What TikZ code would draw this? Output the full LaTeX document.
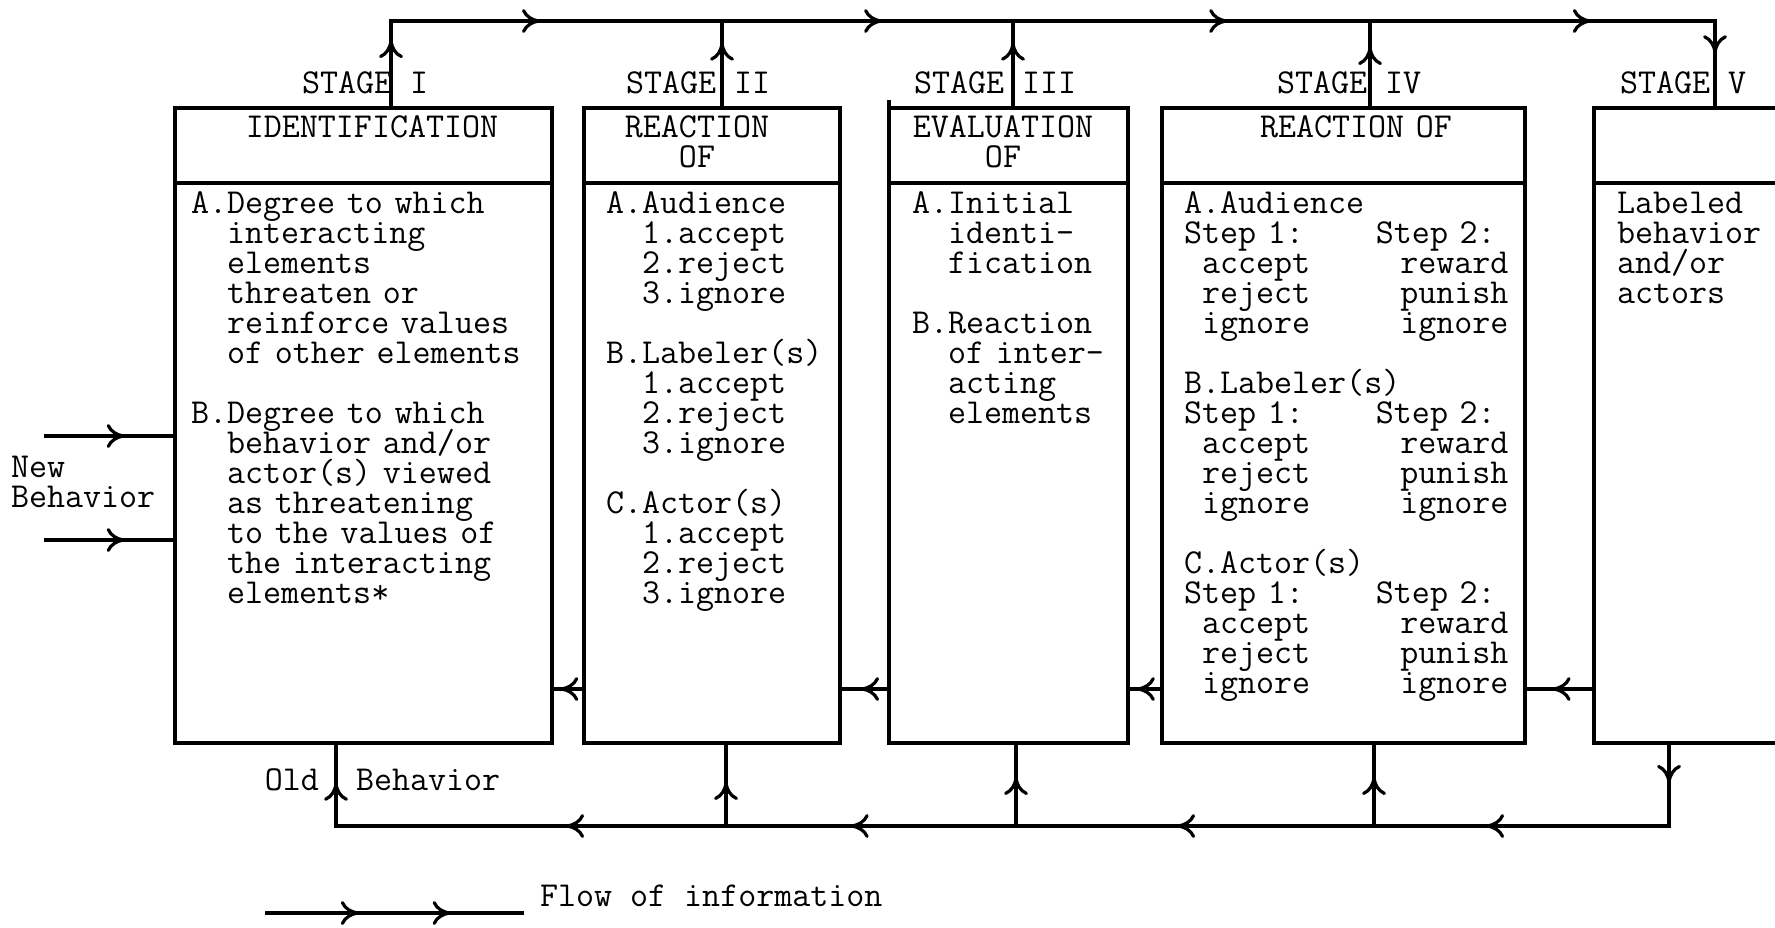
\documentclass[tikz,border=0pt]{standalone}
\usepackage{fontspec}
\usetikzlibrary{arrows.meta,decorations.markings}
\newcommand{\sk}[1]{\hspace*{#1\fontcharwd\font`x}}
\newcommand{\twfont}{\ttfamily\fontsize{17.5pt}{15pt}\selectfont\addfontfeature{FakeBold=1.2}\lineskiplimit=-40pt\relax}
\begin{document}
\begin{tikzpicture}[x=0.5pt,y=-0.5pt,
  line width=1.6pt, line cap=rect,
  flow/.tip={Computer Modern Rightarrow[length=9pt,width=12pt,line width=1.6pt]},
  arrat/.style={postaction={decorate},decoration={markings,mark=at position #1 with {\arrow{flow}}}},
  box/.style={draw,rectangle,inner sep=0pt,outer sep=0pt,anchor=north west},
  txt/.style={font=\twfont,inner sep=0pt,outer sep=0pt},
  body/.style={txt,text width=200pt,align=left,anchor=base west,execute at begin node={\lineskiplimit=-40pt\relax}},
  head/.style={txt,text width=150pt,align=center,anchor=base,execute at begin node={\lineskiplimit=-40pt\relax}}
]
\useasboundingbox (0,0) rectangle (1775,927);
\fill[white] (0,0) rectangle (1775,927);

% boxes
\node[box,minimum width=188.5pt,minimum height=317.5pt] (b1) at (175,108) {};
\node[box,minimum width=128pt,minimum height=317.5pt] (b2) at (584,108) {};
\node[box,minimum width=119.5pt,minimum height=317.5pt] (b3) at (889,108) {};
\node[box,minimum width=181.5pt,minimum height=317.5pt] (b4) at (1162,108) {};
\node[box,minimum width=110pt,minimum height=317.5pt] (b5) at (1594,108) {};
\draw (b3.north west) -- ++(0,-6);

% header dividers
\coordinate (hy) at (0,183);
\foreach \b in {b1,b2,b3,b4,b5} \draw (\b.west |- hy) -- (\b.east |- hy);

% stage labels
\node[txt,anchor=base west] (s1) at (302,93) {STAGE I};
\node[txt,anchor=base west] (s2) at (626,93) {STAGE II};
\node[txt,anchor=base west] (s3) at (914,93) {STAGE III};
\node[txt,anchor=base west] (s4) at (1277,93) {STAGE IV};
\node[txt,anchor=base west] (s5) at (1620,93) {STAGE V};

% headers
\node[head] (h1) at (372,137) {IDENTIFICATION};
\node[head] (h2) at (697,137) {REACTION\\OF};
\node[head] (h3) at (1003,137) {EVALUATION\\OF};
\node[head] (h4) at (1356,137) {REACTION OF};

% bodies
\node[body] (x1) at (191,213) {A.Degree to which\\
\sk{2}interacting\\
\sk{2}elements\\
\sk{2}threaten or\\
\sk{2}reinforce values\\
\sk{2}of other elements\\[15pt]
B.Degree to which\\
\sk{2}behavior and/or\\
\sk{2}actor(s) viewed\\
\sk{2}as threatening\\
\sk{2}to the values of\\
\sk{2}the interacting\\
\sk{2}elements*};

\node[body] (x2) at (606,213) {A.Audience\\
\sk{2}1.accept\\
\sk{2}2.reject\\
\sk{2}3.ignore\\[15pt]
B.Labeler(s)\\
\sk{2}1.accept\\
\sk{2}2.reject\\
\sk{2}3.ignore\\[15pt]
C.Actor(s)\\
\sk{2}1.accept\\
\sk{2}2.reject\\
\sk{2}3.ignore};

\node[body] (x3) at (912,213) {A.Initial\\
\sk{2}identi-\\
\sk{2}fication\\[15pt]
B.Reaction\\
\sk{2}of inter-\\
\sk{2}acting\\
\sk{2}elements};

\node[body] (x4) at (1184,213) {A.Audience\\
Step 1:\sk{4}Step 2:\\
\sk{1}accept\sk{5}reward\\
\sk{1}reject\sk{5}punish\\
\sk{1}ignore\sk{5}ignore\\[15pt]
B.Labeler(s)\\
Step 1:\sk{4}Step 2:\\
\sk{1}accept\sk{5}reward\\
\sk{1}reject\sk{5}punish\\
\sk{1}ignore\sk{5}ignore\\[15pt]
C.Actor(s)\\
Step 1:\sk{4}Step 2:\\
\sk{1}accept\sk{5}reward\\
\sk{1}reject\sk{5}punish\\
\sk{1}ignore\sk{5}ignore};

\node[body] (x5) at (1617,213) {Labeled\\behavior\\and/or\\actors};

% top flow
\coordinate (t1) at (391,21);
\coordinate (t2) at (722,21);
\coordinate (t3) at (1013,21);
\coordinate (t4) at (1370,21);
\coordinate (t5) at (1715,21);
\draw[arrat=0.78] (b1.north -| t1) -- (t1);
\draw[arrat=0.75] (b2.north -| t2) -- (t2);
\draw[arrat=0.75] (b3.north -| t3) -- (t3);
\draw[arrat=0.70] (b4.north -| t4) -- (t4);
\draw[arrat=0.37] (t5) -- (b5.north -| t5);
\draw[arrat=0.45] (t1) -- (t2);
\draw[arrat=0.55] (t2) -- (t3);
\draw[arrat=0.60] (t3) -- (t4);
\draw[arrat=0.64] (t4) -- (t5);

% bottom flow
\coordinate (c1) at (336,826);
\coordinate (c2) at (726,826);
\coordinate (c3) at (1016,826);
\coordinate (c4) at (1374,826);
\coordinate (c5) at (1669,826);
\draw[arrat=0.52] (c1) -- (b1.south -| c1);
\draw[arrat=0.53] (c2) -- (b2.south -| c2);
\draw[arrat=0.59] (c3) -- (b3.south -| c3);
\draw[arrat=0.59] (c4) -- (b4.south -| c4);
\draw[arrat=0.48] (b5.south -| c5) -- (c5);
\draw[arrat=0.62] (c5) -- (c4);
\draw[arrat=0.55] (c4) -- (c3);
\draw[arrat=0.57] (c3) -- (c2);
\draw[arrat=0.41] (c2) -- (c1);

% feedback between boxes
\coordinate (fy) at (0,689);
\draw[arrat=0.74] (b2.west |- fy) -- (b1.east |- fy);
\draw[arrat=0.57] (b3.west |- fy) -- (b2.east |- fy);
\draw[arrat=0.74] (b4.west |- fy) -- (b3.east |- fy);
\draw[arrat=0.60] (b5.west |- fy) -- (b4.east |- fy);

% new behavior
\coordinate (n1) at (46,436);
\coordinate (n2) at (46,540);
\draw[arrat=0.61] (n1) -- (b1.west |- n1);
\draw[arrat=0.61] (n2) -- (b1.west |- n2);
\node[txt,text width=100pt,align=left,anchor=base west,execute at begin node={\lineskiplimit=-40pt\relax}] (nb) at (11,477) {New\\Behavior};

% old behavior
\node[txt,anchor=base east] (old) at (319,790) {Old};
\node[txt,anchor=base west] (ob) at (356,790) {Behavior};

% legend
\coordinate (l1) at (267,913);
\coordinate (l2) at (522,913);
\draw[postaction={decorate},decoration={markings,mark=at position 0.36 with {\arrow{flow}},mark=at position 0.72 with {\arrow{flow}}}] (l1) -- (l2);
\node[txt,anchor=base west] (leg) at (540,906) {Flow of information};
\end{tikzpicture}
\end{document}
